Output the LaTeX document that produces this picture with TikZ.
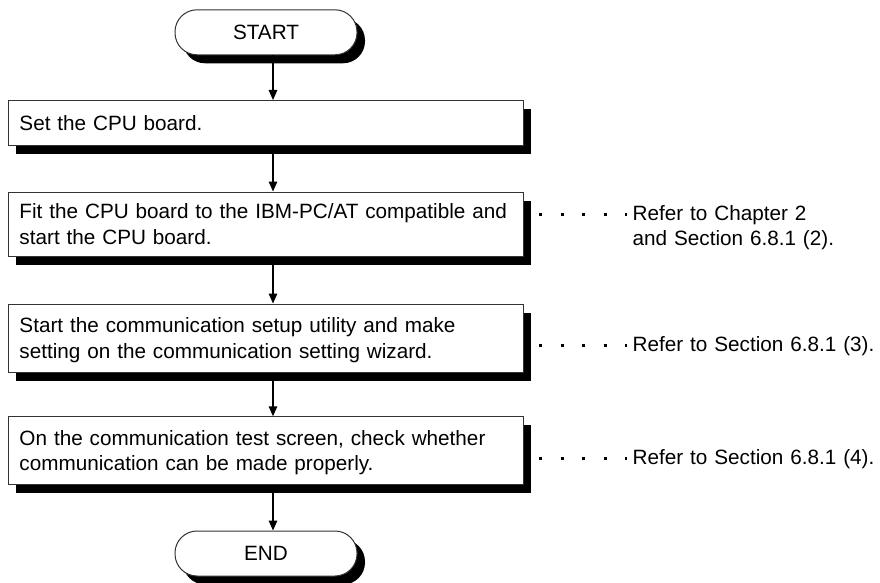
\documentclass[tikz,border=0pt]{standalone}
\usepackage{fontspec}
\setmainfont{Liberation Sans}
\usetikzlibrary{arrows.meta,shadows,calc}
\begin{document}
\begin{tikzpicture}[x=1pt,y=-1pt,
  font=\fontsize{20.7}{25.5}\selectfont,
  shadowed/.style={general shadow={fill=black, shadow xshift=8pt, shadow yshift=-8.5pt}},
  stepbox/.style={shadowed, draw=black!80, line width=1pt, fill=white, rectangle,
    minimum width=515pt, text width=492pt, inner xsep=11.5pt, inner ysep=0pt, align=left},
  term/.style={shadowed, draw=black!80, line width=1pt, fill=white, rounded corners=22pt,
    minimum width=182pt, minimum height=45pt, inner sep=0pt},
  arr/.style={line width=1.5pt, -{Triangle[length=10pt,width=8.5pt]}},
  refdots/.style={line width=3pt, dash pattern=on 3pt off 18.5pt, dash phase=6pt},
  reftext/.style={anchor=base west, inner sep=0pt, text width=245pt, align=left}
]
\useasboundingbox (0,0) rectangle (880,583);

\node[term] (st) at (266,32.3) {START};
\node[stepbox, minimum height=45.2pt] (b1) at (265.5,123.1) {Set the CPU board.};
\node[stepbox, minimum height=64pt] (b2) at (265.5,224) {\mbox{Fit the CPU board to the IBM-PC/AT compatible and}\\\mbox{start the CPU board.}};
\node[stepbox, minimum height=68pt] (b3) at (265.5,338) {\mbox{Start the communication setup utility and make}\\\raisebox{0pt}[\height][0pt]{setting on the communication setting wizard.}};
\node[stepbox, minimum height=67.3pt] (b4) at (265.5,450.4) {\mbox{On the communication test screen, check whether}\\\raisebox{0pt}[\height][0pt]{communication can be made properly.}};
\node[term] (en) at (266,553.5) {END};

\coordinate (ax) at (273,0);
\draw[arr] (st.south -| ax) -- (b1.north -| ax);
\draw[arr] (b1.south -| ax) -- (b2.north -| ax);
\draw[arr] (b2.south -| ax) -- (b3.north -| ax);
\draw[arr] (b3.south -| ax) -- (b4.north -| ax);
\draw[arr] (b4.south -| ax) -- (en.north -| ax);

\node[reftext] (r2) at (632.5,220) {Refer to Chapter 2\\and Section 6.8.1 (2).};
\node[reftext] (r3) at (632.5,351.5) {Refer to Section 6.8.1 (3).};
\node[reftext] (r4) at (632.5,464.5) {Refer to Section 6.8.1 (4).};

\coordinate (d2) at (0,214.5);
\coordinate (d3) at (0,345.5);
\coordinate (d4) at (0,458.5);
\draw[refdots] (b2.east |- d2) -- ($(r2.west |- d2)+(-5.5,0)$);
\draw[refdots] (b3.east |- d3) -- ($(r3.west |- d3)+(-5.5,0)$);
\draw[refdots] (b4.east |- d4) -- ($(r4.west |- d4)+(-5.5,0)$);
\end{tikzpicture}
\end{document}
